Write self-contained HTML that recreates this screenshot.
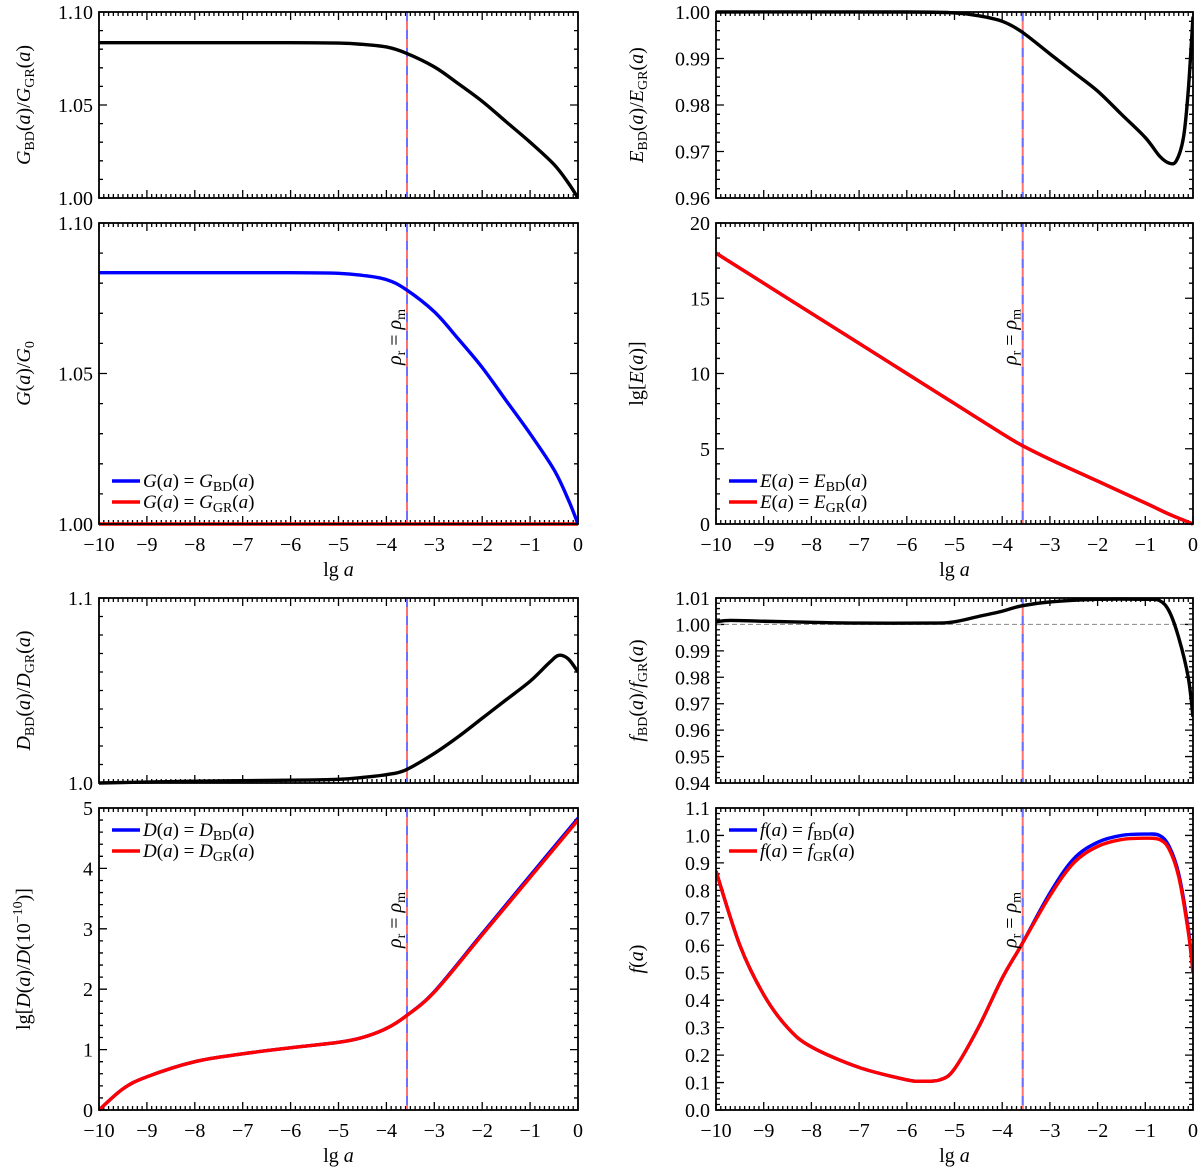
<!DOCTYPE html>
<html><head><meta charset="utf-8"><style>
body{margin:0;background:#fff}
svg{display:block;font-family:"Liberation Serif",serif}
</style></head><body>
<svg id="fig" width="1200" height="1169" viewBox="0 0 1200 1169" xmlns="http://www.w3.org/2000/svg"></svg>
<script>
// ---- data (x = lg a) ----
const gRatioX=[-10,-8,-6,-5,-4.5,-4,-3.6,-3,-2.5,-2,-1.5,-1,-0.5,-0.2,0];
const gRatioY=[1.0835,1.0835,1.0835,1.0833,1.0826,1.0812,1.078,1.0705,1.0615,1.052,1.041,1.030,1.018,1.008,1.000];
const eRatioX=[-10,-6,-5,-4.5,-4,-3.6,-3,-2.5,-2,-1.5,-1,-0.7,-0.5,-0.35,-0.2,-0.1,0];
const eRatioY=[1.0,1.0,0.9998,0.9992,0.998,0.9958,0.991,0.987,0.983,0.978,0.973,0.969,0.9675,0.968,0.973,0.983,0.999];
const lgEX=[-10,-8,-6,-5,-4,-3.6,-3,-2,-1,-0.5,0];
const lgEY=[18,14,10,8,6.0,5.25,4.3,2.85,1.4,0.65,0];
const dRatioX=[-10,-8,-6,-5,-4.5,-4,-3.6,-3,-2.5,-2,-1.5,-1,-0.6,-0.4,-0.2,0];
const dRatioY=[1.0,1.001,1.0015,1.002,1.003,1.0045,1.007,1.016,1.025,1.035,1.045,1.055,1.065,1.069,1.067,1.060];
const lgDX=[-10,-9.5,-9,-8,-7,-6,-5,-4.5,-4,-3.6,-3,-2,-1,0];
const lgDGR=[0,0.35,0.55,0.8,0.93,1.03,1.12,1.2,1.35,1.55,1.95,2.9,3.85,4.8];
const lgDBD=[0,0.35,0.55,0.8,0.93,1.03,1.12,1.2,1.35,1.55,1.96,2.92,3.88,4.83];
const fRatioX=[-10,-9.7,-9,-8,-7,-5.5,-5,-4.5,-4,-3.6,-3,-2,-1,-0.7,-0.5,-0.3,-0.1,0];
const fRatioY=[1.001,1.0015,1.0012,1.0008,1.0005,1.0005,1.001,1.003,1.005,1.007,1.0085,1.0095,1.0095,1.009,1.005,0.995,0.98,0.965];
const fX=[-10,-9.5,-9,-8.5,-8,-7,-6,-5.7,-5.3,-5,-4.5,-4,-3.6,-3,-2.5,-2,-1.5,-1,-0.7,-0.5,-0.3,-0.1,0];
const fGR=[0.87,0.6,0.42,0.3,0.23,0.155,0.11,0.105,0.11,0.15,0.3,0.48,0.6,0.78,0.9,0.96,0.985,0.99,0.985,0.95,0.85,0.65,0.5];
const fBD=[0.87,0.6,0.42,0.3,0.23,0.155,0.11,0.105,0.11,0.15,0.3,0.48,0.6,0.79,0.915,0.975,1.0,1.005,1.0,0.96,0.86,0.66,0.5];
const xTicks=[-10,-9,-8,-7,-6,-5,-4,-3,-2,-1,0];
const eqX=-3.57;

const NS="http://www.w3.org/2000/svg";
const svg=document.getElementById('fig');
const FS=20;
function el(tag,attrs,parent){const e=document.createElementNS(NS,tag);for(const k in attrs)e.setAttribute(k,attrs[k]);(parent||svg).appendChild(e);return e;}
function path(pts){let d='M'+pts[0][0]+','+pts[0][1];for(let i=0;i<pts.length-1;i++){const p0=pts[Math.max(0,i-1)],p1=pts[i],p2=pts[i+1],p3=pts[Math.min(pts.length-1,i+2)];
 const c1=[p1[0]+(p2[0]-p0[0])/6,p1[1]+(p2[1]-p0[1])/6],c2=[p2[0]-(p3[0]-p1[0])/6,p2[1]-(p3[1]-p1[1])/6];
 d+=' C'+c1[0]+','+c1[1]+' '+c2[0]+','+c2[1]+' '+p2[0]+','+p2[1];}return d;}
function fmt(v,dec){return (v<-1e-9?'\u2212':'')+Math.abs(v).toFixed(dec);}
function mathLabel(g,x,y,parts,rot,anchor){
 const t=el('text',{x:x,y:y,'font-size':FS,'text-anchor':anchor||'middle',transform:rot?`rotate(-90 ${x} ${y})`:''},g);
 parts.forEach(p=>{const s=el('tspan',{},t);
  if(p[1]==='sub'){s.setAttribute('font-size',14);s.setAttribute('dy',4);}
  else if(p[1]==='sup'){s.setAttribute('font-size',14);s.setAttribute('dy',-8);}
  else if(p[1]==='up'){s.setAttribute('dy',-4);}
  else if(p[1]==='down'){s.setAttribute('dy',8);}
  else if(p[1]==='i'){s.setAttribute('font-style','italic');}
  s.textContent=p[0];});
 return t;}
function panel(cfg){
 const g=el('g',{});
 
 
 const X=v=>cfg.x0+(v+10)/10*(cfg.x1-cfg.x0);
 const Y=v=>cfg.y1-(v-cfg.ymin)/(cfg.ymax-cfg.ymin)*(cfg.y1-cfg.y0);
 let tk='';
 for(let i=0;i<=100;i++){const x=X(-10+i*0.1);const L=(i%10===0)?8:4;tk+=`M${x},${cfg.y1}v${-L}M${x},${cfg.y0}v${L}`;}
 const n=Math.round((cfg.ymax-cfg.ymin)/cfg.minor);const per=Math.round(cfg.major/cfg.minor);
 for(let i=0;i<=n;i++){const v=cfg.ymin+i*cfg.minor;const y=Y(v);const L=(i%per===0)?8:4;tk+=`M${cfg.x0},${y}h${L}M${cfg.x1},${y}h${-L}`;}
 const ticks=el('path',{d:tk,stroke:'#000','stroke-width':1.3,fill:'none'},g);
 
 const m=Math.round((cfg.ymax-cfg.ymin)/cfg.major);
 for(let i=0;i<=m;i++){const v=cfg.ymin+i*cfg.major;const t=el('text',{x:cfg.x0-6,y:Y(v)+7,'font-size':FS,'text-anchor':'end'},g);t.textContent=fmt(v,cfg.dec);
  }
 if(cfg.xlabels){xTicks.forEach(v=>{const t=el('text',{x:X(v),y:cfg.y1+27,'font-size':FS,'text-anchor':'middle'},g);t.textContent=fmt(v,0);
  });
  const xl=mathLabel(g,(cfg.x0+cfg.x1)/2,cfg.y1+52,[['lg ',''],['a','i']]);
  }
 const yl=mathLabel(g,cfg.ylx,(cfg.y0+cfg.y1)/2,cfg.ylabel,true);
 
 const cid='c'+cfg.name;const cp=el('clipPath',{id:cid},g);el('rect',{x:cfg.x0,y:cfg.y0-2,width:cfg.x1-cfg.x0,height:cfg.y1-cfg.y0+4},cp);
 const inner=el('g',{'clip-path':`url(#${cid})`},g);
 if(cfg.hline!==undefined){const h=el('line',{x1:cfg.x0,x2:cfg.x1,y1:Y(cfg.hline),y2:Y(cfg.hline),stroke:'#888','stroke-width':1,'stroke-dasharray':'5,3'},inner);
  }
 const vx=X(eqX);
 const v1=el('line',{x1:vx,x2:vx,y1:cfg.y0,y2:cfg.y1,stroke:'#ff7070','stroke-width':2},inner);
 
 el('line',{x1:vx,x2:vx,y1:cfg.y0,y2:cfg.y1,stroke:'#6f6fff','stroke-width':2,'stroke-dasharray':'9,9'},inner);
 cfg.series.forEach(s=>{const pts=s.x.map((xv,i)=>[X(xv),Y(s.y[i])]);const p=el('path',{d:path(pts),stroke:s.c,'stroke-width':3.4,fill:'none'},inner);
  });
 if(cfg.rho){const t=mathLabel(g,vx-6,cfg.rho,[['ρ','i'],['r','sub'],[' = ','up'],['ρ','i'],['m','sub']],true);
  }
 if(cfg.legend){cfg.legend.forEach((L,i)=>{const y=cfg.legY+i*21;const ln=el('line',{x1:cfg.x0+13,x2:cfg.x0+41,y1:y,y2:y,stroke:L.c,'stroke-width':3.5},g);
  
  const t=mathLabel(g,cfg.x0+44,y+6,L.parts,false,'start');t.setAttribute('font-size',19);});}
 const fr=el('rect',{x:cfg.x0,y:cfg.y0,width:cfg.x1-cfg.x0,height:cfg.y1-cfg.y0,fill:'none',stroke:'#000','stroke-width':1.8},g);
 
}
const L0=99,L1=578,R0=716,R1=1193;
const leg=(s)=>[{c:'#0000ff',parts:[[s,'i'],['(',''],['a','i'],[') = ',''],[s,'i'],['BD','sub'],['(','up'],['a','i'],[')','']]},{c:'#ff0000',parts:[[s,'i'],['(',''],['a','i'],[') = ',''],[s,'i'],['GR','sub'],['(','up'],['a','i'],[')','']]}];
panel({name:'g-ratio-panel',x0:L0,x1:L1,y0:12,y1:198,ymin:1,ymax:1.1,major:0.05,minor:0.01,dec:2,ylx:30,
 ylabel:[['G','i'],['BD','sub'],['(','up'],['a','i'],[')/',''],['G','i'],['GR','sub'],['(','up'],['a','i'],[')','']],series:[{x:gRatioX,y:gRatioY,c:'#000',name:'g-ratio-line'}]});
panel({name:'g-panel',x0:L0,x1:L1,y0:223,y1:524,ymin:1,ymax:1.1,major:0.05,minor:0.01,dec:2,ylx:30,xlabels:true,rho:337,
 ylabel:[['G','i'],['(',''],['a','i'],[')/',''],['G','i'],['0','sub']],legend:leg('G'),legY:481,
 series:[{x:[-10,0],y:[1,1],c:'#f00',name:'g-gr-line'},{x:gRatioX,y:gRatioY,c:'#00f',name:'g-bd-line'}]});
panel({name:'d-ratio-panel',x0:L0,x1:L1,y0:598,y1:783,ymin:1,ymax:1.1,major:0.1,minor:0.01,dec:1,ylx:30,
 ylabel:[['D','i'],['BD','sub'],['(','up'],['a','i'],[')/',''],['D','i'],['GR','sub'],['(','up'],['a','i'],[')','']],series:[{x:dRatioX,y:dRatioY,c:'#000',name:'d-ratio-line'}]});
panel({name:'lgd-panel',x0:L0,x1:L1,y0:808,y1:1110,ymin:0,ymax:5,major:1,minor:0.2,dec:0,ylx:30,xlabels:true,rho:920,
 ylabel:[['lg[',''],['D','i'],['(',''],['a','i'],[')/',''],['D','i'],['(10',''],['−10','sup'],[')]','down']],legend:leg('D'),legY:830,
 series:[{x:lgDX,y:lgDBD,c:'#00f',name:'lgd-bd-line'},{x:lgDX,y:lgDGR,c:'#f00',name:'lgd-gr-line'}]});
panel({name:'e-ratio-panel',x0:R0,x1:R1,y0:12,y1:198,ymin:0.96,ymax:1.0,major:0.01,minor:0.002,dec:2,ylx:643,
 ylabel:[['E','i'],['BD','sub'],['(','up'],['a','i'],[')/',''],['E','i'],['GR','sub'],['(','up'],['a','i'],[')','']],series:[{x:eRatioX,y:eRatioY,c:'#000',name:'e-ratio-line'}]});
panel({name:'lge-panel',x0:R0,x1:R1,y0:223,y1:524,ymin:0,ymax:20,major:5,minor:1,dec:0,ylx:643,xlabels:true,rho:337,
 ylabel:[['lg[',''],['E','i'],['(',''],['a','i'],[')]','']],legend:leg('E'),legY:481,
 series:[{x:lgEX,y:lgEY,c:'#00f',name:'lge-bd-line'},{x:lgEX,y:lgEY,c:'#f00',name:'lge-gr-line'}]});
panel({name:'f-ratio-panel',x0:R0,x1:R1,y0:598,y1:783,ymin:0.94,ymax:1.01,major:0.01,minor:0.002,dec:2,ylx:643,hline:1.0,
 ylabel:[['f','i'],['BD','sub'],['(','up'],['a','i'],[')/',''],['f','i'],['GR','sub'],['(','up'],['a','i'],[')','']],series:[{x:fRatioX,y:fRatioY,c:'#000',name:'f-ratio-line'}]});
panel({name:'f-panel',x0:R0,x1:R1,y0:808,y1:1110,ymin:0,ymax:1.1,major:0.1,minor:0.02,dec:1,ylx:643,xlabels:true,rho:920,
 ylabel:[['f','i'],['(',''],['a','i'],[')','']],legend:leg('f'),legY:830,
 series:[{x:fX,y:fBD,c:'#00f',name:'f-bd-line'},{x:fX,y:fGR,c:'#f00',name:'f-gr-line'}]});
</script>
</body></html>
